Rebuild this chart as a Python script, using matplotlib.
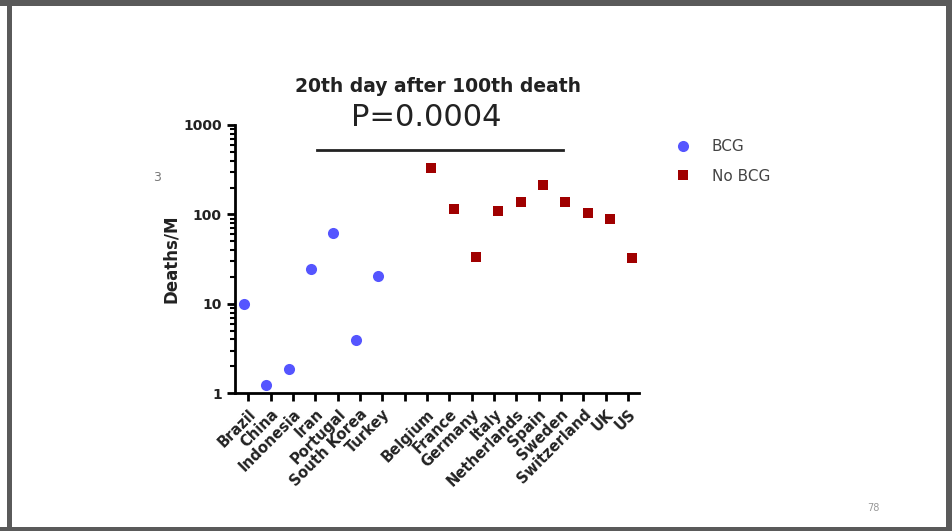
import matplotlib
matplotlib.use("Agg")
import matplotlib.pyplot as plt
from matplotlib.patches import Rectangle
from matplotlib.ticker import LogLocator, NullFormatter, FixedLocator

# data
bcg_countries = ["Brazil", "China", "Indonesia", "Iran", "Portugal", "South Korea", "Turkey"]
bcg_deaths = [10, 1.24, 1.87, 24.4, 62.6, 3.95, 20.7]
nobcg_countries = ["Belgium", "France", "Germany", "Italy", "Netherlands", "Spain",
                   "Sweden", "Switzerland", "UK", "US"]
nobcg_deaths = [329, 114, 33.2, 110, 139, 214, 137, 103, 89.8, 32.9]

bcg_x = list(range(len(bcg_countries)))
nobcg_x = [len(bcg_countries) + 1 + i for i in range(len(nobcg_countries))]
tick_pos = list(range(len(bcg_countries) + 1 + len(nobcg_countries)))
tick_labels = bcg_countries + [""] + nobcg_countries

W, H = 953, 531
fig = plt.figure(figsize=(W / 100, H / 100), dpi=100)
fig.patch.set_facecolor("white")

def px_rect(x0, y0, x1, y1, color):
    fig.patches.append(Rectangle((x0 / W, 1 - y1 / H), (x1 - x0) / W, (y1 - y0) / H,
                                 transform=fig.transFigure, facecolor=color,
                                 edgecolor="none", zorder=0))

# slide frame
px_rect(0, 0, W, 6, "#5a5a5a")
px_rect(7, 0, 12, H, "#5a5a5a")
px_rect(946, 0, W, H, "#5a5a5a")
px_rect(0, 527, W, H, "#5a5a5a")

ax = fig.add_axes([235 / W, 1 - 393.3 / H, 404 / W, 268.3 / H])
ax.set_yscale("log")
ax.set_ylim(1, 1000)
ax.set_xlim(-0.6, 17.5)

ax.plot([x - 0.2 for x in bcg_x], bcg_deaths, "o", color="#5555ff", markersize=8,
        markeredgewidth=0, label="BCG", clip_on=False)
ax.plot([x + 0.2 for x in nobcg_x], nobcg_deaths, "s", color="#a00000", markersize=7.5,
        markeredgewidth=0, label="No BCG", clip_on=False)

for s in ["top", "right"]:
    ax.spines[s].set_visible(False)
for s in ["left", "bottom"]:
    ax.spines[s].set_linewidth(2)
    ax.spines[s].set_color("black")

ax.yaxis.set_major_locator(FixedLocator([1, 10, 100, 1000]))
ax.set_yticklabels(["1", "10", "100", "1000"], fontsize=10, fontweight="bold", color="#222222")
ax.yaxis.set_minor_locator(LogLocator(base=10, subs=range(2, 10)))
ax.yaxis.set_minor_formatter(NullFormatter())
ax.tick_params(axis="y", which="major", length=6, width=2, direction="out")
ax.tick_params(axis="y", which="minor", length=3.5, width=1.5, direction="out")

ax.set_xticks(tick_pos)
ax.set_xticklabels(tick_labels, rotation=45, ha="right", rotation_mode="anchor",
                   fontsize=10.5, fontweight="bold", color="#222222")
ax.tick_params(axis="x", length=6, width=2, direction="out")

ax.set_ylabel("Deaths/M", fontsize=12, fontweight="bold", color="#222222", labelpad=2)

fig.text(438 / W, 1 - 87 / H, "20th day after 100th death", ha="center", va="center",
         fontsize=13.5, fontweight="bold", color="#222222")
fig.text(426 / W, 1 - 118 / H, "P=0.0004", ha="center", va="center",
         fontsize=22, color="#222222")
fig.lines.append(plt.Line2D([317 / W, 563 / W], [1 - 150 / H, 1 - 150 / H],
                            transform=fig.transFigure, color="#222222", linewidth=2))

ax.legend(loc="upper left", bbox_to_anchor=(675 / W, 1 - 139 / H),
          bbox_transform=fig.transFigure, frameon=False, fontsize=11,
          borderpad=0, borderaxespad=0, handlelength=1.0,
          handletextpad=1.42, labelspacing=0.95, labelcolor="#444444")

fig.text(157 / W, 1 - 178 / H, "3", ha="center", va="center", fontsize=9, color="#777777")
fig.text(873 / W, 1 - 508 / H, "78", ha="center", va="center", fontsize=7, color="#999999")

fig.savefig("out.png", dpi=100)
